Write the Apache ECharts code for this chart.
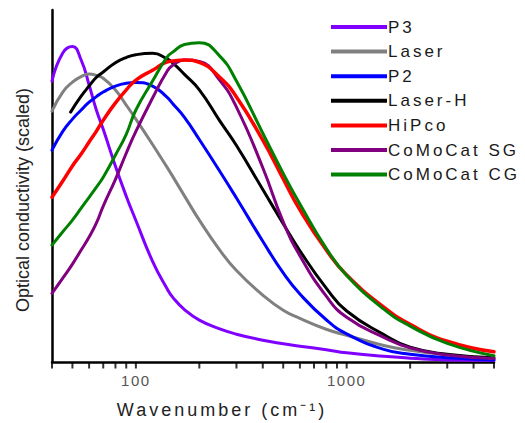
<!DOCTYPE html>
<html>
<head>
<meta charset="utf-8">
<script src="https://cdn.jsdelivr.net/npm/echarts@6/dist/echarts.min.js"></script>
<style>
html,body{margin:0;padding:0;background:#fff;}
#c{width:525px;height:423px;}
</style>
</head>
<body>
<div id="c"></div>
<script>
// ---- data ----
const wavenumbers = [40,45,50,55,60,65,70,80,90,100,120,140,150,170,200,250,300,400,500,600,800,1000,1500,2000,3000,5000];
const p3        = [79.8,87.8,89.6,85.8,78.7,71.5,66.1,55.6,47.1,40.2,28.6,21.0,18.3,14.9,11.9,9.4,7.9,6.2,5.2,4.5,3.5,2.6,1.6,1.1,0.6,0.5];
const laser     = [71.3,76.7,79.5,81.1,81.8,81.4,80.6,77.3,73.0,69.0,61.8,55.5,52.6,47.2,40.3,31.8,26.0,19.0,14.7,12.4,9.3,7.6,4.7,3.3,2.0,0.9];
const p2        = [60.2,65.5,69.0,71.6,73.8,75.4,76.7,78.4,79.2,79.4,78.4,75.3,73.3,69.5,63.2,54.2,46.6,34.3,25.3,19.3,12.0,8.0,3.6,2.2,1.2,0.6];
const hipco     = [46.8,51.4,55.7,59.1,62.5,65.6,68.7,73.6,77.3,80.1,82.9,85.2,85.5,85.8,85.1,80.9,75.3,63.0,52.0,43.2,31.8,24.7,15.6,10.7,5.9,2.9];
const comocatSG = [19.5,23.8,27.8,31.8,35.5,39.5,44.3,51.9,59.3,65.5,75.0,82.4,84.4,85.8,85.4,80.0,72.4,55.2,39.8,30.2,18.7,12.7,7.0,4.0,2.0,1.0];
const comocatCG = [33.2,37.0,40.3,43.7,46.8,49.7,52.5,58.8,64.7,71.6,79.8,86.5,88.1,90.2,90.7,86.9,79.8,65.0,53.6,44.9,32.3,24.6,15.0,10.2,5.3,1.8];
const laserHWavenumbers = [49,55,60,65,70,80,90,100,120,140,150,170,200,250,300,400,500,600,800,1000,1500,2000,3000,5000];
const laserH    = [71.0,75.5,78.4,80.9,82.4,85.0,86.5,87.3,87.7,86.2,84.9,81.7,77.3,68.5,61.5,49.0,39.3,31.6,21.0,14.5,7.8,4.2,2.2,1.2];

const seriesNames = ['P3','Laser','P2','Laser-H','HiPco','CoMoCat SG','CoMoCat CG'];
const tickValues = [40,50,60,70,80,90,100,200,300,400,500,600,700,800,900,1000,2000,3000,4000,5000];
const labelValues = [100,1000];
const xTitle = 'Wavenumber (cm\u207B\u00B9)';
const yTitle = 'Optical conductivity (scaled)';

// ---- chart ----
const colors = {'P3':'#8000ff','Laser':'#808080','P2':'#0000ff','Laser-H':'#000000','HiPco':'#ff0000','CoMoCat SG':'#800080','CoMoCat CG':'#008000'};
const family = 'Liberation Sans, Arial, sans-serif';
function pairs(xs, ys){ return xs.map((x,i)=>[x, ys[i]]); }
const seriesData = {
  'P3': pairs(wavenumbers, p3),
  'Laser': pairs(wavenumbers, laser),
  'P2': pairs(wavenumbers, p2),
  'Laser-H': pairs(laserHWavenumbers, laserH),
  'HiPco': pairs(wavenumbers, hipco),
  'CoMoCat SG': pairs(wavenumbers, comocatSG),
  'CoMoCat CG': pairs(wavenumbers, comocatCG)
};
const drawOrder = ['P3','Laser','P2','Laser-H','CoMoCat SG','HiPco','CoMoCat CG'];

const lineSeries = drawOrder.map(name=>({
  name:name, type:'line', data:seriesData[name], showSymbol:false, smooth:0.5,
  xAxisIndex:0, yAxisIndex:0,
  lineStyle:{color:colors[name], width: name==='HiPco'?3.5:3, cap:'round', join:'round'},
  itemStyle:{color:colors[name]},
  z: 2
}));
// x-axis ticks: short marks in a thin strip grid right under the main x axis
const tickSeries = {
  name:'ticks', type:'scatter', data:tickValues.map(v=>[v,0.5]),
  xAxisIndex:1, yAxisIndex:1,
  symbol:'rect', symbolSize:[2,6],
  itemStyle:{color:'#000'}, silent:true, clip:false, z:5
};

const chart = echarts.init(document.getElementById('c'), null, {renderer:'svg'});
chart.setOption({
  animation:false,
  backgroundColor:'#ffffff',
  grid:[
    {left:52, right:31, top:10, bottom:61},
    {left:52, right:31, top:362, height:7}
  ],
  xAxis:[{
    type:'log', min:40, max:5000, logBase:10, gridIndex:0,
    axisLine:{show:true, onZero:false, lineStyle:{color:'#000', width:2.5}},
    axisTick:{show:false},
    minorTick:{show:false},
    axisLabel:{show:true, customValues:labelValues, margin:11, fontSize:15, color:'#555', fontFamily:family,
      formatter:function(v){return String(Math.round(v));}},
    splitLine:{show:false}
  },{
    type:'log', min:40, max:5000, logBase:10, gridIndex:1, show:false
  }],
  yAxis:[{
    type:'value', min:0, max:100, gridIndex:0,
    axisLine:{show:true, lineStyle:{color:'#000', width:2.5}},
    axisTick:{show:false}, axisLabel:{show:false}, splitLine:{show:false}
  },{
    type:'value', min:0, max:1, gridIndex:1, show:false
  }],
  legend:{
    orient:'vertical', left:326, top:13,
    data:seriesNames,
    icon:'rect', itemWidth:56, itemHeight:4, itemGap:6.6,
    textStyle:{fontSize:17, color:'#1a1a1a', fontFamily:family, lineHeight:18, padding:[0,0,0,-4]}
  },
  graphic:[
    {type:'text', x:222, y:410, style:{text:xTitle, fontSize:18, fontFamily:family, fill:'#222', align:'center', verticalAlign:'middle'}},
    {type:'text', x:23, y:200, rotation:Math.PI/2, style:{text:yTitle, fontSize:18, fontFamily:family, fill:'#222', align:'center', verticalAlign:'middle'}}
  ],
  series: lineSeries.concat([tickSeries])
});

function fixSpacing(){
  document.querySelectorAll('#c text').forEach(t=>{
    const s = t.textContent || '';
    let ls = '3px';
    if (s.indexOf('Optical')===0) ls = '0px';
    else if (/^\d+$/.test(s)) ls = '1.5px';
    t.style.letterSpacing = ls;
  });
}
chart.on('finished', fixSpacing);
fixSpacing();
setTimeout(fixSpacing, 30);
</script>
</body>
</html>
